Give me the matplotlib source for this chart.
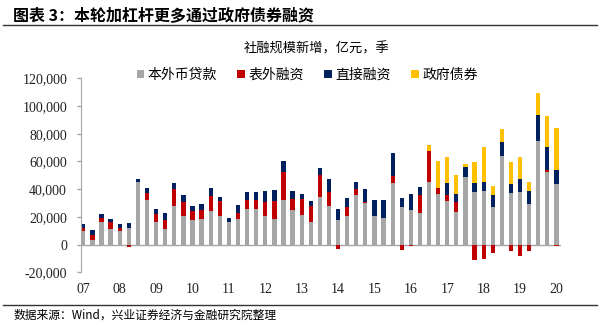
import matplotlib
matplotlib.use('Agg')
import matplotlib.pyplot as plt
from matplotlib.lines import Line2D
from matplotlib.ticker import FuncFormatter
import numpy as np

cjk = ['Noto Sans CJK SC', 'DejaVu Sans']
serif = ['Liberation Serif', 'DejaVu Serif']

# quarterly new social financing, 100m yuan
loans = np.array([9900, 3600, 16400, 11600, 9900, 12300, 45100, 32100, 16400, 11600,
                  27700, 20500, 17600, 18600, 24300, 21000, 16600, 18600, 26000, 25500,
                  21000, 18600, 32000, 24800, 21400, 16400, 34500, 27700, 18100, 21000,
                  35700, 30100, 21000, 19500, 44600, 26800, 24800, 23100, 45000, 36500,
                  31500, 23600, 48800, 38100, 38600, 26800, 63900, 37400, 38100, 29600,
                  74700, 52500, 43600])
offbs = np.array([2400, 3600, 2700, 4600, 2400, -2000, 400, 4800, 5500, 6500,
                  12800, 10400, 6700, 6700, 11100, 10400, 0, 4300, 6000, 7000,
                  9600, 12800, 20200, 8400, 11800, 11600, 15700, 10400, -2900, 6300,
                  4300, 1000, -500, -300, 4800, -4100, -800, 12500, 22700, 4500,
                  4500, 7200, -600, -10800, -10400, -6000, 0, -4800, -8200, -4600,
                  0, 1200, -1000])
direct = np.array([2400, 3600, 2700, 2200, 2400, 3400, 2000, 4100, 4100, 4800,
                   4100, 4600, 3900, 3900, 5800, 3100, 2700, 6000, 5800, 5300,
                   8000, 7700, 8200, 5300, 3600, 3600, 5100, 9600, 7500, 6500,
                   5300, 9400, 11100, 13000, 16400, 7200, 11600, 6000, 0, 0,
                   8200, 5500, 7500, 6700, 6300, 9200, 10100, 6700, 9600, 8900,
                   19000, 17000, 10600])
govbond = np.array([0] * 38 + [4100, 19300, 19300, 13700, 2200, 14500, 25800, 6300,
                               9200, 15400, 15200, 7000, 15400, 22200, 29600])
year_labels = ['07', '08', '09', '10', '11', '12', '13', '14', '15', '16', '17', '18', '19', '20']

names = ['本外币贷款', '表外融资', '直接融资', '政府债券']
colors = ['#A6A6A6', '#C00000', '#002060', '#FFC000']

fig = plt.figure(figsize=(6, 3.25), dpi=100)
ax = fig.add_axes([0.135, 0.162, 0.80, 0.597])

x = np.arange(len(loans))
w = 0.47
pos_bottom = np.zeros(len(x))
neg_bottom = np.zeros(len(x))
handles = []
for vals, c, n in zip([loans, offbs, direct, govbond], colors, names):
    vals = vals.astype(float)
    bottom = np.where(vals >= 0, pos_bottom, neg_bottom)
    h = ax.bar(x, vals, w, bottom=bottom, color=c, label=n, linewidth=0)
    handles.append(h)
    pos_bottom = pos_bottom + np.clip(vals, 0, None)
    neg_bottom = neg_bottom + np.clip(vals, None, 0)

ax.axhline(0, color='#A6A6A6', lw=1, zorder=0)
ax.set_ylim(-20000, 120000)
ax.set_xlim(-0.25, 52.5)
ax.set_yticks(np.arange(-20000, 120001, 20000))
ax.yaxis.set_major_formatter(FuncFormatter(lambda v, p: f'{v:,.0f}'))
ax.set_xticks(np.arange(0, 53, 4))
ax.set_xticklabels(year_labels)
for s in ['top', 'right', 'bottom']:
    ax.spines[s].set_visible(False)
ax.spines['left'].set_color('#A6A6A6')
ax.tick_params(axis='y', length=3, width=1, color='#A6A6A6', pad=7)
ax.tick_params(axis='x', length=0, pad=8)
for lab in ax.get_xticklabels() + ax.get_yticklabels():
    lab.set_family(serif)
    lab.set_fontsize(10)
    lab.set_color('#222222')

fig.legend(handles=handles, loc='center', bbox_to_anchor=(0.512, 0.769), ncol=4,
           frameon=False, prop={'family': cjk, 'size': 10},
           handlelength=0.55, handleheight=0.55, handletextpad=0.25, columnspacing=1.45)

fig.text(0.022, 0.954, '图表 3：本轮加杠杆更多通过政府债券融资', family=cjk, fontsize=11.5,
         fontweight='bold', ha='left', va='center')
fig.text(0.527, 0.85, '社融规模新增，亿元，季', family=cjk, fontsize=9.5, ha='center', va='center')
fig.text(0.022, 0.031, '数据来源：Wind，兴业证券经济与金融研究院整理', family=cjk, fontsize=8.5,
         ha='left', va='center')
fig.add_artist(Line2D([0.005, 0.995], [1 - 25 / 325, 1 - 25 / 325], transform=fig.transFigure,
                      color='#333333', lw=1))
fig.add_artist(Line2D([0.005, 0.995], [1 - 305 / 325, 1 - 305 / 325], transform=fig.transFigure,
                      color='#333333', lw=1))

fig.savefig('out.png', dpi=100)
